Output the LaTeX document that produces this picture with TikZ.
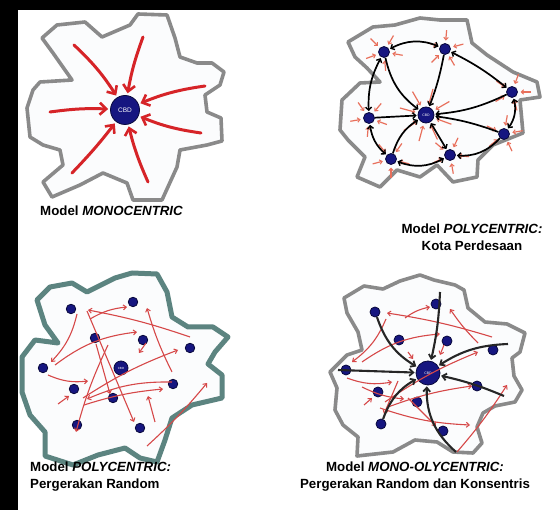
\documentclass[tikz,border=0pt]{standalone}
\usepackage{fontspec}
\setmainfont{Liberation Sans}
\usetikzlibrary{arrows.meta,calc}
\definecolor{outgray}{RGB}{138,138,138}
\definecolor{outteal}{RGB}{92,132,128}
\definecolor{inwhite}{RGB}{251,252,253}
\definecolor{navy}{RGB}{22,22,128}
\definecolor{navydark}{RGB}{8,8,60}
\definecolor{redA}{RGB}{214,36,40}
\definecolor{redB}{RGB}{214,72,72}
\definecolor{salmon}{RGB}{232,112,92}
\tikzset{
  outl/.style={draw=outgray, line width=3.6pt, fill=inwhite, line join=round},
  outlteal/.style={draw=outteal, line width=5pt, fill=inwhite, line join=round},
  hub/.style={circle, fill=navy, draw=navydark, line width=0.8pt, inner sep=0pt, text=white},
  bigred/.style={draw=redA, line width=3pt, line cap=round, shorten >=2pt,
    -{Straight Barb[length=6.5pt,width=12pt,line width=2.6pt]}},
  tinyred/.style={draw=salmon, line width=1.2pt, -{Straight Barb[length=2.5pt,width=4.5pt,line width=1pt]}},
  thinred/.style={draw=redB, line width=1.1pt, -{Straight Barb[length=3pt,width=5pt,line width=1pt]}},
  blk2/.style={draw=black, line width=1.7pt, shorten >=1pt, shorten <=1pt,
    {Straight Barb[length=3pt,width=6pt,line width=1.4pt]}-{Straight Barb[length=3pt,width=6pt,line width=1.4pt]}},
  blk1/.style={draw=black, line width=1.7pt, shorten >=1pt,
    -{Straight Barb[length=3pt,width=6pt,line width=1.4pt]}},
  blk4/.style={draw=black!85, line width=2.1pt, shorten >=1pt,
    -{Straight Barb[length=4pt,width=7pt,line width=1.8pt]}},
  captxt/.style={font=\fontsize{13.3}{17}\selectfont\bfseries, inner sep=0pt, align=center},
}
\begin{document}
\begin{tikzpicture}[x=1pt,y=-1pt]
\fill[black] (0,0) rectangle (560,510);
\fill[white] (18,10) rectangle (560,510);
\useasboundingbox (0,0) rectangle (560,510);

% ================= Panel 1: MONOCENTRIC =================
\draw[outl] (42,38) -- (57,25) -- (85,22) -- (102,37) -- (130,25) -- (138,14) -- (167,15) -- (175,38)
 -- (180,57) -- (197,63) -- (212,63) -- (224,72) -- (220,85) -- (205,95) -- (207,112) -- (221,118)
 -- (222,141) -- (207,145) -- (180,150) -- (177,167) -- (162,200) -- (133,200) -- (127,183) -- (103,173)
 -- (80,185) -- (52,197) -- (43,182) -- (63,165) -- (60,150) -- (43,145) -- (30,137) -- (27,108)
 -- (33,90) -- (40,82) -- (72,80) -- (53,53) -- cycle;
\node[hub, minimum size=29pt, font=\fontsize{6.5}{7}\selectfont] (cbd1) at (125,110) {CBD};
\coordinate (m1) at (74,45);
\coordinate (m2) at (143,37);
\coordinate (m3) at (205,86);
\coordinate (m4) at (50,112);
\coordinate (m5) at (201,133);
\coordinate (m6) at (72,173);
\coordinate (m7) at (148,182);
\draw[bigred] (m1) to[bend left=7] (cbd1);
\draw[bigred] (m2) to[bend right=5] (cbd1);
\draw[bigred] (m3) to[bend right=7] (cbd1);
\draw[bigred] (m4) to[bend left=5] (cbd1);
\draw[bigred] (m5) to[bend left=7] (cbd1);
\draw[bigred] (m6) to[bend right=3] (cbd1);
\draw[bigred] (m7) to[bend left=5] (cbd1);
\node[captxt, anchor=west] (t1) at (40,211) {Model \textit{MONOCENTRIC}};

% ================= Panel 2: POLYCENTRIC Kota Perdesaan =================
\draw[outl] (348,42) -- (373,27) -- (395,25) -- (420,18) -- (440,20) -- (467,20) -- (472,43) -- (487,55)
 -- (513,72) -- (537,82) -- (540,97) -- (520,100) -- (523,133) -- (493,145) -- (478,160) -- (477,177)
 -- (453,182) -- (437,165) -- (420,177) -- (397,170) -- (380,187) -- (357,177) -- (365,157) -- (348,140)
 -- (340,130) -- (342,100) -- (360,83) -- (380,82) -- (367,68) -- (355,57) -- cycle;
\node[hub, minimum size=16pt, font=\fontsize{3.5}{4}\selectfont] (cbd2) at (426,115) {CBD};
\node[hub, minimum size=11pt] (q1) at (384,52) {};
\node[hub, minimum size=11pt] (q2) at (445,49) {};
\node[hub, minimum size=11pt] (q3) at (512,92) {};
\node[hub, minimum size=11pt] (q4) at (369,118) {};
\node[hub, minimum size=11pt] (q5) at (504,134) {};
\node[hub, minimum size=11pt] (q6) at (391,159) {};
\node[hub, minimum size=11pt] (q7) at (450,155) {};
\foreach \n/\r in {q1/10,q2/-15,q3/0,q4/20,q5/-10,q6/15,q7/5}{
  \foreach \a in {0,75,150,215,290}{
    \draw[tinyred] ($(\n)+(\a+\r:19)$) -- ($(\n)+(\a+\r:8.5)$);
  }
}
\foreach \a in {20,65,105,145,195,240,285,330}{
  \draw[tinyred] ($(cbd2)+(\a:27)$) -- ($(cbd2)+(\a:11)$);
}
\draw[blk2] (q1) to[bend left=25] (q2);
\draw[blk2] (q2) to[bend left=6] (q3);
\draw[blk2] (q1) to[bend right=15] (q4);
\draw[blk2] (q4) to[bend right=20] (q6);
\draw[blk2] (q6) to[bend right=25] (q7);
\draw[blk2] (q3) to[bend left=25] (q5);
\draw[blk1] (q5) to[bend left=25] (q7);
\draw[blk1] (q1) to[bend right=20] (cbd2);
\draw[blk1] (q2) to[bend left=5] (cbd2);
\draw[blk1] (q3) to[bend left=10] (cbd2);
\draw[blk1] (q4) -- (cbd2);
\draw[blk1] (q5) to[bend right=6] (cbd2);
\draw[blk1] (q6) to[bend left=20] (cbd2);
\draw[blk2] (q7) -- (cbd2);
\node[captxt] (t2) at (472,237) {Model \textit{POLYCENTRIC:}\\Kota Perdesaan};

% ================= Panel 3: POLYCENTRIC Pergerakan Random =================
\draw[outlteal] (37,300) -- (50,287) -- (72,283) -- (87,292) -- (115,278) -- (132,273) -- (157,274)
 -- (167,292) -- (172,317) -- (188,327) -- (213,327) -- (228,337) -- (215,352) -- (208,364) -- (222,375)
 -- (222,398) -- (192,405) -- (172,418) -- (165,440) -- (157,462) -- (140,458) -- (125,448) -- (98,455)
 -- (73,465) -- (45,456) -- (45,432) -- (30,415) -- (22,392) -- (22,357) -- (35,340) -- (58,343)
 -- (45,325) -- cycle;
\node[hub, minimum size=14pt, font=\fontsize{3}{4}\selectfont] (cbd3) at (121,368) {CBD};
\node[hub, minimum size=9.5pt] (r1) at (71,309) {};
\node[hub, minimum size=9.5pt] (r2) at (133,302) {};
\node[hub, minimum size=9.5pt] (r3) at (95,338) {};
\node[hub, minimum size=9.5pt] (r4) at (143,340) {};
\node[hub, minimum size=9.5pt] (r5) at (190,348) {};
\node[hub, minimum size=9.5pt] (r6) at (43,368) {};
\node[hub, minimum size=9.5pt] (r7) at (74,389) {};
\node[hub, minimum size=9.5pt] (r8) at (173,384) {};
\node[hub, minimum size=9.5pt] (r9) at (113,398) {};
\node[hub, minimum size=9.5pt] (r10) at (77,425) {};
\node[hub, minimum size=9.5pt] (r11) at (140,428) {};
\coordinate (a1s) at (77,314);   \coordinate (a1e) at (51,362);
\coordinate (a2s) at (190,337);  \coordinate (a2e) at (88,310);
\coordinate (a3s) at (90,319);   \coordinate (a3e) at (127,307);
\coordinate (a4s) at (87,311);   \coordinate (a4e) at (134,422);
\coordinate (a5s) at (172,372);  \coordinate (a5e) at (147,308);
\coordinate (a6s) at (55,365);   \coordinate (a6e) at (137,332);
\coordinate (a7s) at (48,375);   \coordinate (a7e) at (88,381);
\coordinate (a8s) at (146,343);  \coordinate (a8e) at (139,353);
\coordinate (a9s) at (83,398);   \coordinate (a9e) at (178,350);
\coordinate (a10s) at (58,404);  \coordinate (a10e) at (69,396);
\coordinate (a11s) at (108,345); \coordinate (a11e) at (76,432);
\coordinate (a12s) at (84,405);  \coordinate (a12e) at (163,389);
\coordinate (a13s) at (155,422); \coordinate (a13e) at (148,396);
\coordinate (a14s) at (147,446); \coordinate (a14e) at (207,383);
\coordinate (a15s) at (172,382); \coordinate (a15e) at (87,399);
\coordinate (a16s) at (96,344);  \coordinate (a16e) at (110,394);
\draw[thinred] (a1s) to[bend left=15] (a1e);
\draw[thinred] (a2s) to[bend right=4] (a2e);
\draw[thinred] (a3s) to[bend left=12] (a3e);
\draw[thinred] (a4s) -- (a4e);
\draw[thinred] (a5s) to[bend left=5] (a5e);
\draw[thinred] (a6s) to[bend left=15] (a6e);
\draw[thinred] (a7s) to[bend right=15] (a7e);
\draw[thinred] (a8s) -- (a8e);
\draw[thinred] (a9s) to[bend left=6] (a9e);
\draw[thinred] (a10s) -- (a10e);
\draw[thinred] (a11s) to[bend right=5] (a11e);
\draw[thinred] (a12s) to[bend left=6] (a12e);
\draw[thinred] (a13s) -- (a13e);
\draw[thinred] (a14s) to[bend right=4] (a14e);
\draw[thinred] (a15s) to[bend right=12] (a15e);
\draw[thinred] (a16s) -- (a16e);
\node[captxt, anchor=west, align=left] (t3) at (30,477) {Model \textit{POLYCENTRIC:}\\Pergerakan Random};

% ================= Panel 4: MONO-OLYCENTRIC =================
\draw[outl] (344,298) -- (364,286) -- (383,289) -- (400,281) -- (420,275) -- (434,280) -- (455,285)
 -- (464,290) -- (468,308) -- (485,322) -- (507,324) -- (525,333) -- (520,352) -- (512,358) -- (514,376)
 -- (522,390) -- (515,402) -- (495,406) -- (483,413) -- (477,427) -- (482,443) -- (473,453) -- (453,452)
 -- (437,442) -- (415,440) -- (393,452) -- (357,456) -- (358,437) -- (343,425) -- (335,410) -- (337,388)
 -- (330,372) -- (347,355) -- (362,350) -- (358,332) -- (347,313) -- cycle;
\node[hub, minimum size=24pt, font=\fontsize{3.5}{4}\selectfont] (cbd4) at (428,373) {CBD};
\node[hub, minimum size=10pt] (s1) at (375,312) {};
\node[hub, minimum size=10pt] (s2) at (436,304) {};
\node[hub, minimum size=10pt] (s3) at (399,340) {};
\node[hub, minimum size=10pt] (s4) at (447,341) {};
\node[hub, minimum size=10pt] (s5) at (493,350) {};
\node[hub, minimum size=10pt] (s6) at (346,370) {};
\node[hub, minimum size=10pt] (s7) at (378,392) {};
\node[hub, minimum size=10pt] (s8) at (477,386) {};
\node[hub, minimum size=10pt] (s9) at (417,402) {};
\node[hub, minimum size=10pt] (s10) at (381,424) {};
\node[hub, minimum size=10pt] (s11) at (443,431) {};
% red random arrows
\coordinate (b1s) at (492,337);  \coordinate (b1e) at (387,313);
\coordinate (b2s) at (405,318);  \coordinate (b2e) at (430,307);
\coordinate (b3s) at (478,343);  \coordinate (b3e) at (450,309);
\coordinate (b4s) at (386,319);  \coordinate (b4e) at (352,362);
\coordinate (b5s) at (347,378);  \coordinate (b5e) at (392,382);
\coordinate (b6s) at (362,362);  \coordinate (b6e) at (440,334);
\coordinate (b7s) at (385,402);  \coordinate (b7e) at (478,352);
\coordinate (b8s) at (364,405);  \coordinate (b8e) at (372,398);
\coordinate (b9s) at (457,452);  \coordinate (b9e) at (507,385);
\coordinate (b10s) at (388,407); \coordinate (b10e) at (472,386);
\coordinate (b11s) at (408,398); \coordinate (b11e) at (436,426);
\coordinate (b12s) at (398,381); \coordinate (b12e) at (384,414);
\coordinate (b13s) at (444,345); \coordinate (b13e) at (440,355);
\coordinate (b14s) at (408,352); \coordinate (b14e) at (413,359);
\coordinate (b15s) at (380,408); \coordinate (b15e) at (470,425);
\coordinate (b16s) at (362,387); \coordinate (b16e) at (404,399);
\draw[thinred] (b1s) to[bend right=4] (b1e);
\draw[thinred] (b2s) to[bend left=12] (b2e);
\draw[thinred] (b3s) to[bend left=5] (b3e);
\draw[thinred] (b4s) to[bend left=15] (b4e);
\draw[thinred] (b5s) to[bend right=15] (b5e);
\draw[thinred] (b6s) to[bend left=15] (b6e);
\draw[thinred] (b7s) to[bend left=6] (b7e);
\draw[thinred] (b8s) -- (b8e);
\draw[thinred] (b9s) to[bend right=4] (b9e);
\draw[thinred] (b10s) to[bend left=6] (b10e);
\draw[thinred] (b11s) -- (b11e);
\draw[thinred] (b12s) -- (b12e);
\draw[thinred] (b13s) -- (b13e);
\draw[thinred] (b14s) -- (b14e);
\draw[thinred] (b15s) to[bend right=8] (b15e);
\draw[thinred] (b16s) to[bend right=10] (b16e);
% black concentric arrows
\coordinate (k2) at (440,292);
\coordinate (k3) at (508,344);
\coordinate (k4) at (338,370);
\coordinate (k5) at (504,396);
\coordinate (k7) at (456,452);
\draw[blk4] (s1) to[bend right=20] (cbd4);
\draw[blk4] (k2) to[bend left=5] (cbd4);
\draw[blk4] (k3) to[bend right=15] (cbd4);
\draw[blk4] (k4) -- (cbd4);
\draw[blk4] (k5) to[bend right=5] (cbd4);
\draw[blk4] (s10) to[bend left=20] (cbd4);
\draw[blk4] (k7) to[bend left=25] (cbd4);
\node[captxt] (t4) at (415,477) {Model \textit{MONO-OLYCENTRIC:}\\Pergerakan Random dan Konsentris};
\end{tikzpicture}
\end{document}
